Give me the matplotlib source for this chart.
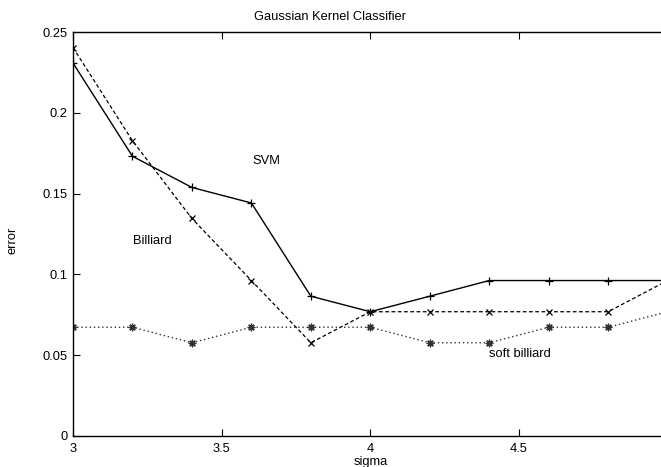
import matplotlib
matplotlib.use('Agg')
import matplotlib.pyplot as plt

sigma = [3.0, 3.2, 3.4, 3.6, 3.8, 4.0, 4.2, 4.4, 4.6, 4.8, 5.0]
svm = [0.2308, 0.1731, 0.1538, 0.1442, 0.0865, 0.0769, 0.0865, 0.0962, 0.0962, 0.0962, 0.0962]
billiard = [0.2404, 0.1827, 0.1346, 0.0962, 0.0577, 0.0769, 0.0769, 0.0769, 0.0769, 0.0769, 0.0962]
soft_billiard = [0.0673, 0.0673, 0.0577, 0.0673, 0.0673, 0.0673, 0.0577, 0.0577, 0.0673, 0.0673, 0.0769]

xticks = [3, 3.5, 4, 4.5]
yticks = [0, 0.05, 0.1, 0.15, 0.2, 0.25]
ytick_labels = ['0', '0.05', '0.1', '0.15', '0.2', '0.25']

plt.rcParams['font.family'] = ['Liberation Sans', 'DejaVu Sans']
fs = 9.3

fig = plt.figure(figsize=(6.61, 4.67), dpi=100)
ax = fig.add_axes([73 / 661, 31 / 467, 588 / 661, 404 / 467])

ax.plot(sigma, svm, 'k-', lw=1.0, marker='+', ms=6, mew=0.9)
ax.plot(sigma, billiard, color='k', ls=(0, (3, 2)), lw=0.9, marker='x', ms=5, mew=0.9)
ax.plot(sigma, soft_billiard, color='#333333', ls=(0, (1, 2)), lw=1.0,
        marker=(8, 2, 0), ms=5.5, mew=0.9)

ax.text(3.604, 0.170, 'SVM', fontsize=fs, ha='left', va='center')
ax.text(3.202, 0.1207, 'Billiard', fontsize=fs, ha='left', va='center')
ax.text(4.399, 0.0507, 'soft billiard', fontsize=fs, ha='left', va='center')

ax.set_xlim(3, 3 + 588 / 297.3)
ax.set_ylim(0, 0.25)
ax.set_xticks(xticks)
ax.set_xticklabels(['3', '3.5', '4', '4.5'])
ax.set_yticks(yticks)
ax.set_yticklabels(ytick_labels)
ax.tick_params(direction='in', length=5, width=0.8, top=True, right=False,
               labelsize=fs, pad=4)
ax.tick_params(axis='x', pad=5)
ax.spines['right'].set_visible(False)
for s in ['left', 'top', 'bottom']:
    ax.spines[s].set_linewidth(1.0)

fig.text(330 / 661, 1 - 17 / 467, 'Gaussian Kernel Classifier', fontsize=fs,
         ha='center', va='center')
fig.text(371 / 661, 1 - 462 / 467, 'sigma', fontsize=fs, ha='center', va='center')
fig.text(12 / 661, 1 - 240 / 467, 'error', fontsize=fs, ha='center', va='center',
         rotation=90)

fig.savefig('out.png', dpi=100)
